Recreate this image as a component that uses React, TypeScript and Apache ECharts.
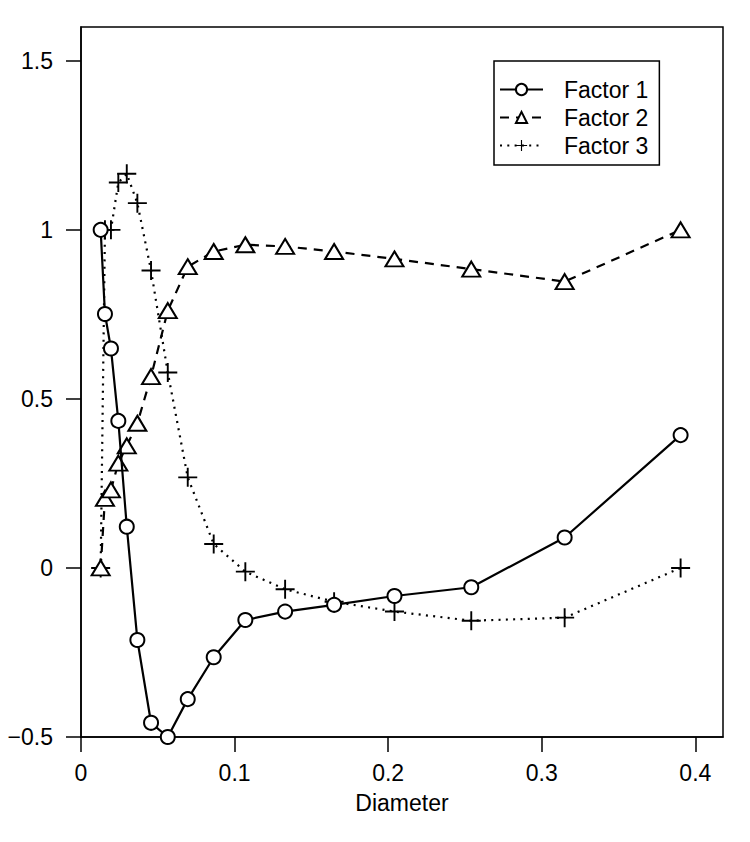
import React, { useEffect, useRef } from "react";
import * as echarts from "echarts";

const diameters = [0.0128, 0.0156, 0.0195, 0.0243, 0.0298, 0.0367, 0.0456, 0.0565, 0.0695, 0.0864, 0.107, 0.1329, 0.1648, 0.2041, 0.2541, 0.3149, 0.3904];
const factor1 = [1.0, 0.751, 0.649, 0.435, 0.122, -0.213, -0.458, -0.5, -0.388, -0.264, -0.154, -0.129, -0.109, -0.083, -0.057, 0.09, 0.393];
const factor2 = [0.0, 0.206, 0.231, 0.31, 0.361, 0.428, 0.566, 0.761, 0.891, 0.936, 0.956, 0.951, 0.936, 0.914, 0.884, 0.847, 1.0];
const factor3 = [0.0, 1.0, 1.0, 1.14, 1.166, 1.079, 0.88, 0.578, 0.268, 0.071, -0.011, -0.063, -0.1, -0.129, -0.156, -0.147, 0.0];
const seriesNames = ["Factor 1", "Factor 2", "Factor 3"];
const xTicks = [0, 0.1, 0.2, 0.3, 0.4];
const yTicks = [-0.5, 0, 0.5, 1, 1.5];

const FONT = "'Liberation Sans', Arial, Helvetica, sans-serif";
const PLUS = "path://M0,9 L20,9 L20,11 L0,11 Z M9,0 L11,0 L11,20 L9,20 Z";

const pair = (ys: number[]) => diameters.map((d, i) => [d, ys[i]]);

export default function App() {
  const ref = useRef<HTMLDivElement>(null);
  useEffect(() => {
    if (!ref.current) return;
    const chart = echarts.init(ref.current, null, { renderer: "svg" });
    const fmtY = (v: number) => (v < 0 ? "\u2212" + Math.abs(v) : String(v));
    chart.setOption({
      animation: false,
      backgroundColor: "#fff",
      grid: {
        left: 81,
        right: 27,
        top: 27,
        bottom: 105,
        show: true,
        borderColor: "#000",
        borderWidth: 1.5,
        backgroundColor: "transparent",
      },
      xAxis: {
        type: "value",
        min: 0,
        max: 0.418,
        name: "Diameter",
        nameLocation: "middle",
        nameGap: 54,
        nameTextStyle: { fontSize: 23, color: "#000", fontFamily: FONT },
        axisLine: { show: true, onZero: false, lineStyle: { color: "#000", width: 1.5 } },
        axisTick: { show: true, inside: false, length: 15, lineStyle: { color: "#000", width: 1.5 }, customValues: xTicks },
        axisLabel: { show: true, margin: 24, fontSize: 23, color: "#000", fontFamily: FONT, customValues: xTicks, formatter: (v: number) => String(v) },
        splitLine: { show: false },
      },
      yAxis: {
        type: "value",
        min: -0.5,
        max: 1.6,
        axisLine: { show: true, onZero: false, lineStyle: { color: "#000", width: 1.5 } },
        axisTick: { show: true, inside: false, length: 15, lineStyle: { color: "#000", width: 1.5 }, customValues: yTicks },
        axisLabel: { show: true, margin: 28, fontSize: 23, color: "#000", fontFamily: FONT, customValues: yTicks, formatter: fmtY },
        splitLine: { show: false },
      },
      legend: {
        orient: "vertical",
        left: 494,
        top: 61,
        padding: [17, 11, 8, 5],
        itemGap: 5,
        itemWidth: 43,
        itemHeight: 14,
        borderColor: "#000",
        borderWidth: 1.5,
        backgroundColor: "#fff",
        textStyle: { fontSize: 23, color: "#000", fontFamily: FONT, lineHeight: 23, padding: [0, 0, 0, 16] },
        data: seriesNames,
      },
      series: [
        {
          name: seriesNames[0],
          type: "line",
          data: pair(factor1),
          symbol: "emptyCircle",
          symbolSize: 14,
          lineStyle: { color: "#000", width: 2.2, type: "solid" },
          itemStyle: { color: "#000", borderColor: "#000", borderWidth: 2 },
          z: 3,
        },
        {
          name: seriesNames[1],
          type: "line",
          data: pair(factor2),
          symbol: "emptyTriangle",
          symbolSize: [18, 15],
          lineStyle: { color: "#000", width: 2.2, type: [9, 7] },
          itemStyle: { color: "#000", borderColor: "#000", borderWidth: 2 },
          z: 2,
        },
        {
          name: seriesNames[2],
          type: "line",
          data: pair(factor3),
          symbol: PLUS,
          symbolSize: 19,
          lineStyle: { color: "#000", width: 2.2, type: [2, 5.3] },
          itemStyle: { color: "#000", borderWidth: 0 },
          z: 1,
        },
      ],
    });
    return () => chart.dispose();
  }, []);
  return <div ref={ref} style={{ position: "fixed", left: 0, top: 0, width: 750, height: 842 }} />;
}
